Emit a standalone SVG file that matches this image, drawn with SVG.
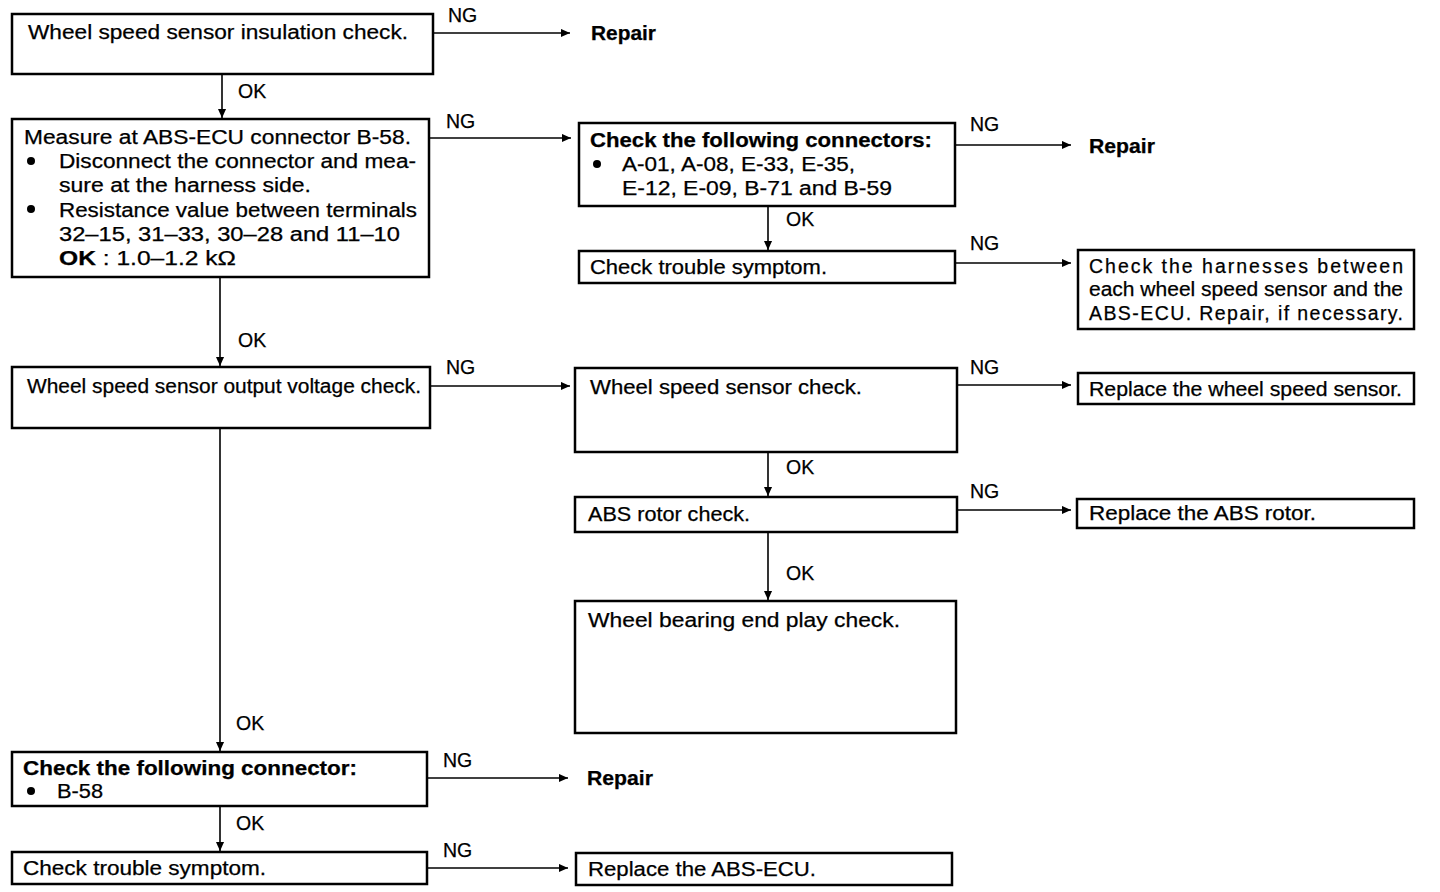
<svg xmlns="http://www.w3.org/2000/svg" width="1440" height="892" viewBox="0 0 1440 892">
<style>
.box{fill:#fff;stroke:#000;stroke-width:2.5}
.t{font-family:"Liberation Sans",Arial,sans-serif;font-size:19.5px;fill:#000;stroke:#000;stroke-width:0.25}
.b{font-weight:bold}
.c{fill:none;stroke:#000;stroke-width:1.6}
</style>
<defs>
<marker id="ah" viewBox="0 0 10 10" refX="10" refY="5" markerWidth="14" markerHeight="9" markerUnits="userSpaceOnUse" orient="auto">
<path d="M0,0.5 L10,5 L0,9.5 Z" fill="#000"/>
</marker>
</defs>
<rect width="1440" height="892" fill="#fff"/>
<g id="connectors">
<line class="c" x1="433" y1="33" x2="570" y2="33" marker-end="url(#ah)"/>
<line class="c" x1="222" y1="74" x2="222" y2="118" marker-end="url(#ah)"/>
<line class="c" x1="429" y1="138" x2="571" y2="138" marker-end="url(#ah)"/>
<line class="c" x1="955" y1="145" x2="1071" y2="145" marker-end="url(#ah)"/>
<line class="c" x1="768" y1="206" x2="768" y2="250" marker-end="url(#ah)"/>
<line class="c" x1="955" y1="263" x2="1071" y2="263" marker-end="url(#ah)"/>
<line class="c" x1="220" y1="277" x2="220" y2="366" marker-end="url(#ah)"/>
<line class="c" x1="430" y1="386" x2="570" y2="386" marker-end="url(#ah)"/>
<line class="c" x1="957" y1="385" x2="1071" y2="385" marker-end="url(#ah)"/>
<line class="c" x1="768" y1="452" x2="768" y2="496" marker-end="url(#ah)"/>
<line class="c" x1="957" y1="510" x2="1071" y2="510" marker-end="url(#ah)"/>
<line class="c" x1="768" y1="532" x2="768" y2="600" marker-end="url(#ah)"/>
<line class="c" x1="220" y1="428" x2="220" y2="751" marker-end="url(#ah)"/>
<line class="c" x1="427" y1="778" x2="568" y2="778" marker-end="url(#ah)"/>
<line class="c" x1="220" y1="806" x2="220" y2="851" marker-end="url(#ah)"/>
<line class="c" x1="427" y1="868" x2="568" y2="868" marker-end="url(#ah)"/>
<text class="t" x="448" y="22">NG</text>
<text class="t" x="238" y="98">OK</text>
<text class="t" x="446" y="128">NG</text>
<text class="t" x="970" y="131">NG</text>
<text class="t" x="786" y="226">OK</text>
<text class="t" x="970" y="250">NG</text>
<text class="t" x="238" y="347">OK</text>
<text class="t" x="446" y="374">NG</text>
<text class="t" x="970" y="374">NG</text>
<text class="t" x="786" y="474">OK</text>
<text class="t" x="970" y="498">NG</text>
<text class="t" x="786" y="580">OK</text>
<text class="t" x="236" y="730">OK</text>
<text class="t" x="443" y="767">NG</text>
<text class="t" x="236" y="830">OK</text>
<text class="t" x="443" y="857">NG</text>
</g>
<g id="n1">
<rect class="box" x="12" y="14" width="421" height="60"/>
<text class="t" x="28" y="39" textLength="380" lengthAdjust="spacingAndGlyphs">Wheel speed sensor insulation check.</text>
</g>
<g id="n1r">
<text class="t b" x="591" y="40" textLength="65" lengthAdjust="spacingAndGlyphs">Repair</text>
</g>
<g id="n2">
<rect class="box" x="12" y="119" width="417" height="158"/>
<text class="t" x="24" y="144" textLength="387" lengthAdjust="spacingAndGlyphs">Measure at ABS-ECU connector B-58.</text>
<circle cx="31" cy="161" r="4"/>
<text class="t" x="59" y="168" textLength="357" lengthAdjust="spacingAndGlyphs">Disconnect the connector and mea-</text>
<text class="t" x="59" y="192" textLength="252" lengthAdjust="spacingAndGlyphs">sure at the harness side.</text>
<circle cx="31" cy="209" r="4"/>
<text class="t" x="59" y="217" textLength="358" lengthAdjust="spacingAndGlyphs">Resistance value between terminals</text>
<text class="t" x="59" y="241" textLength="341" lengthAdjust="spacingAndGlyphs">32–15, 31–33, 30–28 and 11–10</text>
<text class="t" x="59" y="265" textLength="177" lengthAdjust="spacingAndGlyphs"><tspan class="b">OK</tspan> : 1.0–1.2 kΩ</text>
</g>
<g id="n3">
<rect class="box" x="579" y="123" width="376" height="83"/>
<text class="t b" x="590" y="147" textLength="342" lengthAdjust="spacingAndGlyphs">Check the following connectors:</text>
<circle cx="597" cy="164" r="4"/>
<text class="t" x="622" y="171" textLength="233" lengthAdjust="spacingAndGlyphs">A-01, A-08, E-33, E-35,</text>
<text class="t" x="622" y="195" textLength="270" lengthAdjust="spacingAndGlyphs">E-12, E-09, B-71 and B-59</text>
</g>
<g id="n3r">
<text class="t b" x="1089" y="153" textLength="66" lengthAdjust="spacingAndGlyphs">Repair</text>
</g>
<g id="n4">
<rect class="box" x="579" y="251" width="376" height="32"/>
<text class="t" x="590" y="274" textLength="237" lengthAdjust="spacingAndGlyphs">Check trouble symptom.</text>
</g>
<g id="n5">
<rect class="box" x="1078" y="250" width="336" height="79"/>
<text class="t" x="1089" y="273" textLength="314" lengthAdjust="spacing">Check the harnesses between</text>
<text class="t" x="1089" y="296" textLength="314" lengthAdjust="spacingAndGlyphs">each wheel speed sensor and the</text>
<text class="t" x="1089" y="320" textLength="314" lengthAdjust="spacing">ABS-ECU. Repair, if necessary.</text>
</g>
<g id="n6">
<rect class="box" x="12" y="367" width="418" height="61"/>
<text class="t" x="27" y="393" textLength="394" lengthAdjust="spacingAndGlyphs">Wheel speed sensor output voltage check.</text>
</g>
<g id="n7">
<rect class="box" x="575" y="368" width="382" height="84"/>
<text class="t" x="590" y="394" textLength="272" lengthAdjust="spacingAndGlyphs">Wheel speed sensor check.</text>
</g>
<g id="n8">
<rect class="box" x="1078" y="373" width="336" height="31"/>
<text class="t" x="1089" y="396" textLength="313" lengthAdjust="spacingAndGlyphs">Replace the wheel speed sensor.</text>
</g>
<g id="n9">
<rect class="box" x="575" y="497" width="382" height="35"/>
<text class="t" x="588" y="521" textLength="162" lengthAdjust="spacingAndGlyphs">ABS rotor check.</text>
</g>
<g id="n10">
<rect class="box" x="1077" y="499" width="337" height="29"/>
<text class="t" x="1089" y="520" textLength="227" lengthAdjust="spacingAndGlyphs">Replace the ABS rotor.</text>
</g>
<g id="n11">
<rect class="box" x="575" y="601" width="381" height="132"/>
<text class="t" x="588" y="627" textLength="312" lengthAdjust="spacingAndGlyphs">Wheel bearing end play check.</text>
</g>
<g id="n12">
<rect class="box" x="12" y="752" width="415" height="54"/>
<text class="t b" x="23" y="775" textLength="334" lengthAdjust="spacingAndGlyphs">Check the following connector:</text>
<circle cx="31" cy="791" r="4"/>
<text class="t" x="57" y="798" textLength="46" lengthAdjust="spacingAndGlyphs">B-58</text>
</g>
<g id="n12r">
<text class="t b" x="587" y="785" textLength="66" lengthAdjust="spacingAndGlyphs">Repair</text>
</g>
<g id="n13">
<rect class="box" x="12" y="852" width="415" height="32"/>
<text class="t" x="23" y="875" textLength="243" lengthAdjust="spacingAndGlyphs">Check trouble symptom.</text>
</g>
<g id="n14">
<rect class="box" x="576" y="853" width="376" height="32"/>
<text class="t" x="588" y="876" textLength="228" lengthAdjust="spacingAndGlyphs">Replace the ABS-ECU.</text>
</g>
</svg>
